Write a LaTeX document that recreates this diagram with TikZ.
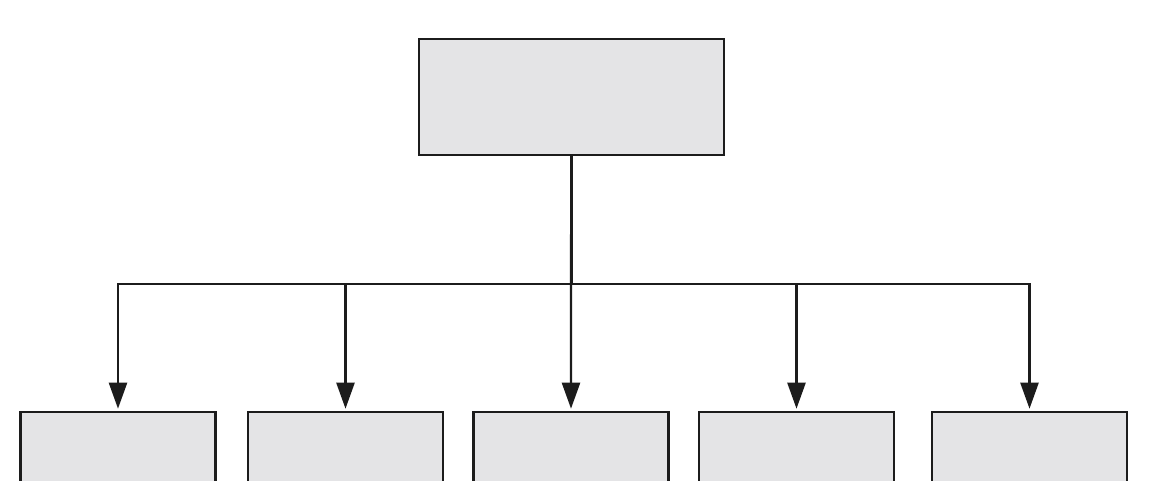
\documentclass[tikz,border=0pt]{standalone}
\usepackage{xcolor}
\usetikzlibrary{positioning,calc,arrows.meta}
\definecolor{boxfill}{HTML}{E4E4E6}
\definecolor{boxline}{HTML}{1C1C1C}
\tikzset{
	unitbox/.style={draw=boxline, fill=boxfill, line width=2.6pt, inner sep=0pt, minimum height=116pt},
	rootbox/.style={unitbox, minimum width=305pt},
	leafbox/.style={unitbox, minimum width=195pt},
	feed/.style={draw=boxline, line width=2.4pt, -{Triangle[width=18pt,length=26pt]}, shorten >=2pt}
}
\begin{document}
\begin{tikzpicture}[x=1pt,y=-1pt]
			\clip (0,0) rectangle (1152,480);
			\fill[white] (0,0) rectangle (1152,480);
			\node[rootbox] (root) at (571.5,97) {};
			\node[leafbox] (leafA) at (118,470) {};
			\node[leafbox] (leafB) at (345.5,470) {};
			\node[leafbox] (leafC) at (571,470) {};
			\node[leafbox] (leafD) at (796.5,470) {};
			\node[leafbox] (leafE) at (1029.5,470) {};
			\coordinate (bus) at (root.south |- 0,284);
			\draw[feed] (root.south) -- (bus) -| (leafA.north);
			\draw[feed] (root.south) -- (bus) -| (leafB.north);
			\draw[feed] (root.south) -- (bus -| leafC.north) -- (leafC.north);
			\draw[feed] (root.south) -- (bus) -| (leafD.north);
			\draw[feed] (root.south) -- (bus) -| (leafE.north);
		\end{tikzpicture}
\end{document}
